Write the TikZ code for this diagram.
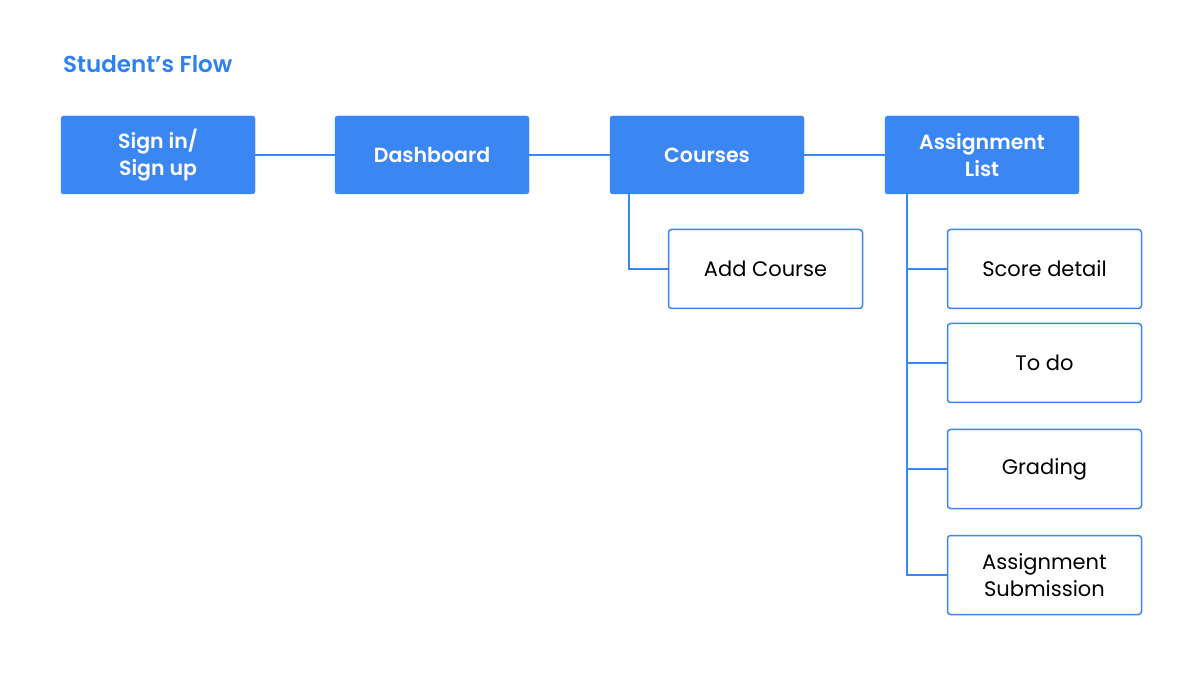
\documentclass[tikz,border=0pt]{standalone}
\usepackage{fontspec}
\setmainfont{Poppins}[BoldFont={Poppins SemiBold}]
\definecolor{flowblue}{HTML}{3A87F4}
\definecolor{titleblue}{HTML}{3080F0}
\tikzset{
  mainbox/.style={fill=flowblue,draw=flowblue,rounded corners=2.5pt,minimum width=194pt,minimum height=78pt,text=white,font=\fontsize{20.5}{27}\selectfont\bfseries,align=center,inner sep=0pt},
  subbox/.style={fill=white,draw=flowblue,line width=1.5pt,rounded corners=3pt,minimum width=194pt,minimum height=79pt,text=black,font=\fontsize{21}{27}\selectfont,align=center,inner sep=0pt},
  link/.style={draw=flowblue,line width=1.5pt}
}
\begin{document}
\begin{tikzpicture}[x=1pt,y=-1pt]
    \useasboundingbox (0,0) rectangle (1200,692);
    \node[anchor=base west,text=titleblue,font=\fontsize{23}{27}\selectfont\bfseries,inner sep=0pt] (title) at (63,73) {Student’s Flow};
    % top row
    \node[mainbox] (signin) at (158,155) {Sign in/\\Sign up};
    \node[mainbox] (dash) at (432,155) {Dashboard};
    \node[mainbox] (courses) at (707,155) {Courses};
    \node[mainbox] (alist) at (982,155) {Assignment\\List};
    \draw[link] (signin) -- (dash);
    \draw[link] (dash) -- (courses);
    \draw[link] (courses) -- (alist);
    % courses branch
    \node[subbox] (addc) at (765.5,269) {Add Course};
    \coordinate (cstem) at (629,194);
    \draw[link] (cstem) |- (addc.west);
    % assignment branch
    \node[subbox] (score) at (1044.5,269) {Score detail};
    \node[subbox] (todo) at (1044.5,363) {To do};
    \node[subbox] (grade) at (1044.5,469) {Grading};
    \node[subbox] (submit) at (1044.5,575) {Assignment\\Submission};
    \coordinate (astem) at (907,194);
    \draw[link] (astem) |- (submit.west);
    \foreach \b in {score,todo,grade}
        \draw[link] (907,0 |- \b.west) -- (\b.west);
\end{tikzpicture}
\end{document}
